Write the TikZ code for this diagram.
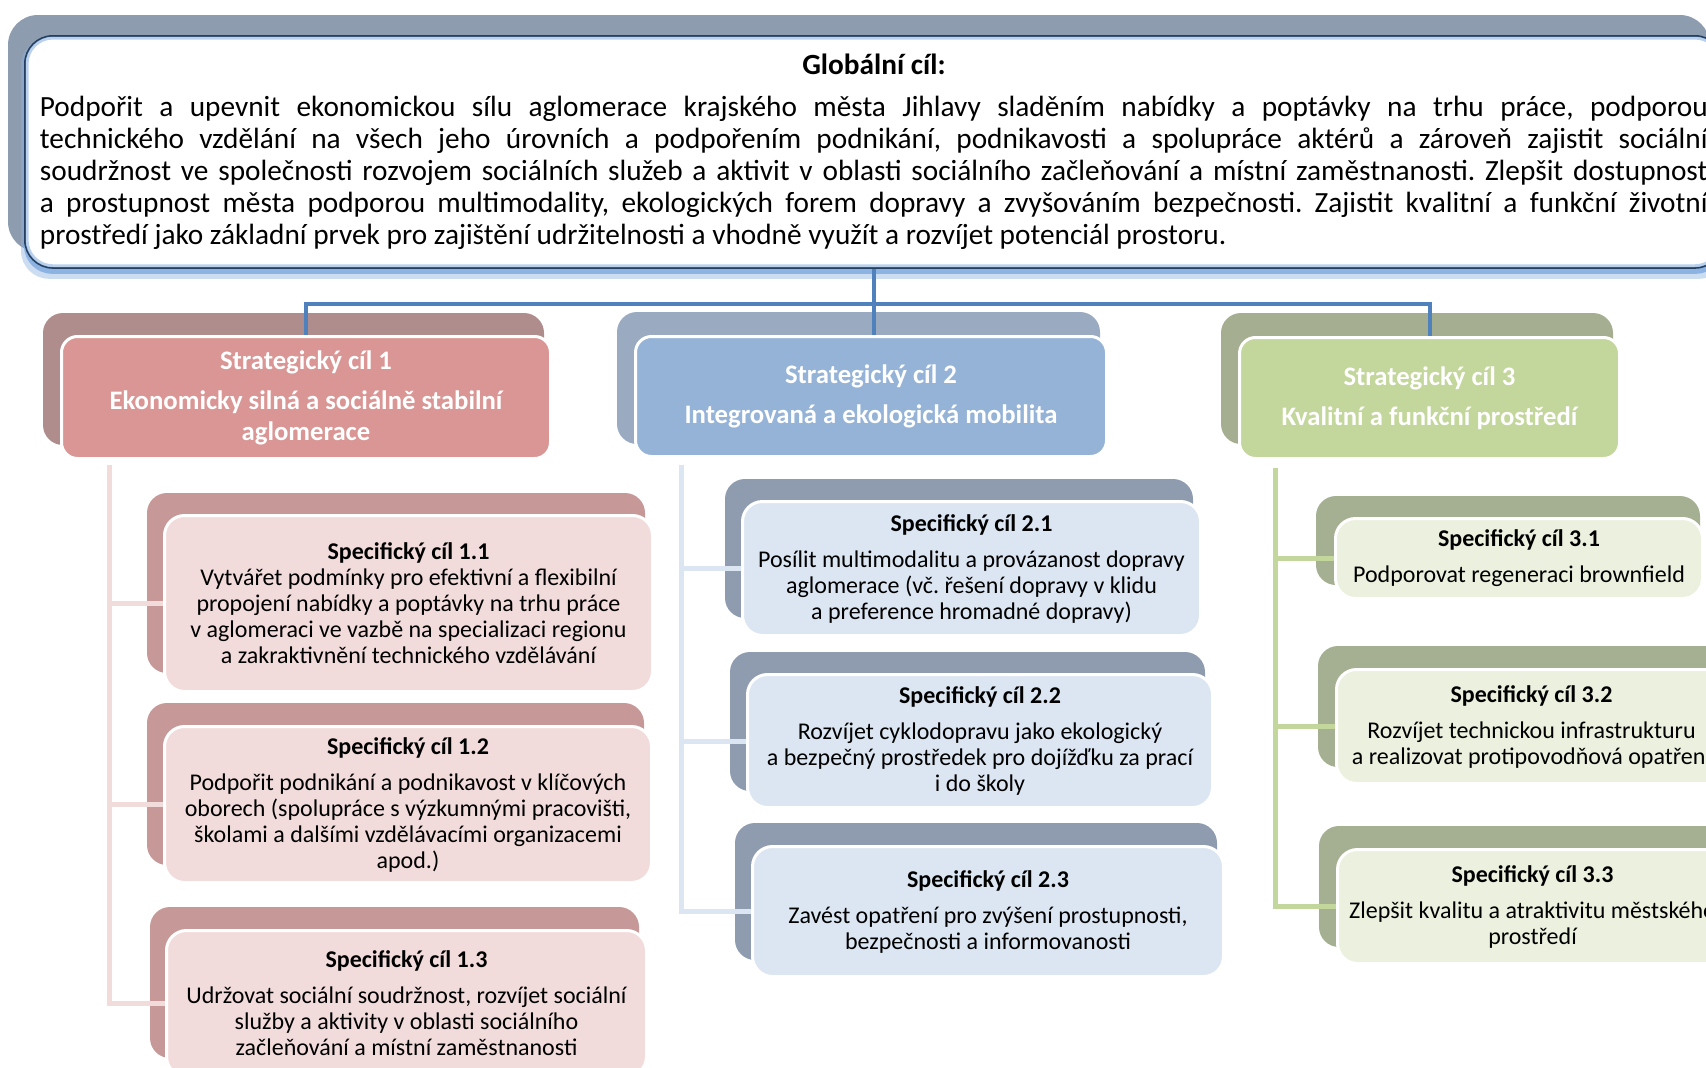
\documentclass[tikz,border=0pt]{standalone}
\usepackage{fontspec}
\setmainfont{Carlito}
\usetikzlibrary{calc,backgrounds}
\definecolor{navy}{HTML}{243F60}
\definecolor{glow}{HTML}{8DB3E2}
\definecolor{gback}{HTML}{8E9CAF}
\definecolor{conn}{HTML}{4F81BD}
\definecolor{red1}{HTML}{D99694}
\definecolor{blu1}{HTML}{95B3D7}
\definecolor{grn1}{HTML}{C3D69B}
\definecolor{red2}{HTML}{F2DCDB}
\definecolor{blu2}{HTML}{DCE6F2}
\definecolor{grn2}{HTML}{EBF1DE}
\definecolor{redbk}{HTML}{AF8D8C}
\definecolor{blubk}{HTML}{99AAC1}
\definecolor{grnbk}{HTML}{A5AE90}
\definecolor{redbk2}{HTML}{C69898}
\definecolor{blubk2}{HTML}{8F9CAF}
\definecolor{grnbk2}{HTML}{A5AF91}
\definecolor{redln}{HTML}{F2DCDB}
\definecolor{bluln}{HTML}{DCE6F2}
\definecolor{grnln}{HTML}{C3D69B}
\frenchspacing
\newcommand{\glfont}{\fontsize{29.3}{32}\selectfont}
\newcommand{\stfont}{\fontsize{26.7}{31}\selectfont\bfseries}
\newcommand{\spfont}{\fontsize{24}{26}\selectfont}
\newcommand{\hd}[1]{\textbf{#1}}
\tikzset{
  gbox/.style={draw=navy,line width=1.8pt,fill=white,rounded corners=28pt,align=justify,
    text width=1668pt,inner xsep=15pt,minimum height=232pt,anchor=north west,font=\glfont},
  sbox/.style={draw=white,line width=3pt,rounded corners=16pt,align=center,
    anchor=north west,text=white,font=\stfont},
  cbox/.style={draw=white,line width=3pt,rounded corners=20pt,align=center,
    anchor=north west,font=\spfont},
  bk/.style={rounded corners=20pt},
  bl/.style={draw=conn,line width=4pt},
  sub/.style={line width=5pt},
}

\begin{document}
\begin{tikzpicture}[x=1pt,y=-1pt]
\useasboundingbox (0,0) rectangle (1706,1068);
% global goal
\node[gbox] (glob) at (24,35) {\makebox[1668pt]{\hd{Globální cíl:}}\\[10pt]
  Podpořit a upevnit ekonomickou sílu aglomerace krajského města Jihlavy sladěním nabídky a poptávky na trhu práce, podporou\linebreak
  technického vzdělání na všech jeho úrovních a podpořením podnikání, podnikavosti a spolupráce aktérů a zároveň zajistit sociální\linebreak
  soudržnost ve společnosti rozvojem sociálních služeb a aktivit v oblasti sociálního začleňování a místní zaměstnanosti. Zlepšit dostupnost\linebreak
  a prostupnost města podporou multimodality, ekologických forem dopravy a zvyšováním bezpečnosti. Zajistit kvalitní a funkční životní\linebreak
  prostředí jako základní prvek pro zajištění udržitelnosti a vhodně využít a rozvíjet potenciál prostoru.};
\draw[glow,line width=3pt,opacity=.6,rounded corners=26pt]
  ($(glob.north west)+(3,3)$) rectangle ($(glob.south east)+(-3,-3)$);

% strategic goals
\node[sbox,fill=red1,minimum width=489pt,minimum height=122pt] (sc1) at (60,335)
  {Strategický cíl 1\\[9pt]Ekonomicky silná a sociálně stabilní\\aglomerace};
\node[sbox,fill=blu1,minimum width=471pt,minimum height=120pt] (sc2) at (634,335)
  {Strategický cíl 2\\[9pt]Integrovaná a ekologická mobilita};
\node[sbox,fill=grn1,minimum width=380pt,minimum height=121pt] (sc3) at (1238,336)
  {Strategický cíl 3\\[9pt]Kvalitní a funkční prostředí};

% specific goals
\node[cbox,fill=red2,minimum width=488pt,minimum height=176pt] (s11) at (163,514)
  {\hd{Specifický cíl 1.1}\\Vytvářet podmínky pro efektivní a flexibilní\\propojení nabídky a poptávky na trhu práce\\v aglomeraci ve vazbě na specializaci regionu\\a zakraktivnění technického vzdělávání};
\node[cbox,fill=red2,minimum width=487pt,minimum height=156pt] (s12) at (163,725)
  {\hd{Specifický cíl 1.2}\\[10pt]Podpořit podnikání a podnikavost v klíčových\\oborech (spolupráce s výzkumnými pracovišti,\\školami a dalšími vzdělávacími organizacemi\\apod.)};
\node[cbox,fill=red2,minimum width=480pt,minimum height=146pt] (s13) at (165,929)
  {\hd{Specifický cíl 1.3}\\[10pt]Udržovat sociální soudržnost, rozvíjet sociální\\služby a aktivity v oblasti sociálního\\začleňování a místní zaměstnanosti};
\node[cbox,fill=blu2,minimum width=458pt,minimum height=134pt] (s21) at (741,500)
  {\hd{Specifický cíl 2.1}\\[10pt]Posílit multimodalitu a provázanost dopravy\\aglomerace (vč. řešení dopravy v klidu\\a preference hromadné dopravy)};
\node[cbox,fill=blu2,minimum width=465pt,minimum height=133pt] (s22) at (746,673)
  {\hd{Specifický cíl 2.2}\\[10pt]Rozvíjet cyklodopravu jako ekologický\\a bezpečný prostředek pro dojížďku za prací\\i do školy};
\node[cbox,fill=blu2,minimum width=471pt,minimum height=130pt] (s23) at (751,845)
  {\hd{Specifický cíl 2.3}\\[10pt]Zavést opatření pro zvýšení prostupnosti,\\bezpečnosti a informovanosti};
\node[cbox,fill=grn2,minimum width=367pt,minimum height=80pt] (s31) at (1334,517)
  {\hd{Specifický cíl 3.1}\\[10pt]Podporovat regeneraci brownfield};
\node[cbox,fill=grn2,minimum width=390pt,minimum height=114pt] (s32) at (1335,668)
  {\hd{Specifický cíl 3.2}\\[10pt]Rozvíjet technickou infrastrukturu\\a realizovat protipovodňová opatření};
\node[cbox,fill=grn2,minimum width=390pt,minimum height=114pt] (s33) at (1336,848)
  {\hd{Specifický cíl 3.3}\\[10pt]Zlepšit kvalitu a atraktivitu městského\\prostředí};

\begin{scope}[on background layer]
% shadows behind boxes
\fill[gback,rounded corners=30pt] ($(glob.north west)+(-16,-20)$) rectangle ($(glob.south east)+(-14,-17)$);
\fill[glow,opacity=.45,rounded corners=28pt] ($(glob.north west)+(-3,3)$) rectangle ($(glob.south east)+(3,10)$);
\fill[glow,rounded corners=28pt] ($(glob.north west)+(0,2)$) rectangle ($(glob.south east)+(0,5)$);
\fill[bk,redbk] ($(sc1.north west)+(-17,-22)$) rectangle ($(sc1.south east)+(-8,-15)$);
\fill[bk,blubk] ($(sc2.north west)+(-17,-23)$) rectangle ($(sc2.south east)+(-8,-14)$);
\fill[bk,grnbk] ($(sc3.north west)+(-17,-23)$) rectangle ($(sc3.south east)+(-8,-16)$);
\fill[bk,redbk2] ($(s11.north west)+(-16,-21)$) rectangle ($(s11.south east)+(-9,-20)$);
\fill[bk,redbk2] ($(s12.north west)+(-16,-22)$) rectangle ($(s12.south east)+(-9,-19)$);
\fill[bk,redbk2] ($(s13.north west)+(-15,-22)$) rectangle ($(s13.south east)+(-9,-20)$);
\fill[bk,blubk2] ($(s21.north west)+(-16,-21)$) rectangle ($(s21.south east)+(-9,-19)$);
\fill[bk,blubk2] ($(s22.north west)+(-16,-21)$) rectangle ($(s22.south east)+(-9,-18)$);
\fill[bk,blubk2] ($(s23.north west)+(-16,-22)$) rectangle ($(s23.south east)+(-8,-18)$);
\fill[bk,grnbk2] ($(s31.north west)+(-18,-21)$) rectangle ($(s31.south east)+(-4,-15)$);
\fill[bk,grnbk2] ($(s32.north west)+(-17,-22)$) rectangle ($(s32.south east)+(0,-18)$);
\fill[bk,grnbk2] ($(s33.north west)+(-17,-22)$) rectangle ($(s33.south east)+(0,-18)$);
% connectors
\coordinate (hub) at ($(glob.south)+(0,35)$);
\draw[bl] (glob.south) -- (glob.south |- sc2.north);
\draw[bl] (sc1.north) |- (hub) -| (sc3.north);
\coordinate (c1) at ($(sc1.south west)+(49,5)$);
\coordinate (c2) at ($(sc2.south west)+(47,7)$);
\coordinate (c3) at ($(sc3.south west)+(37,8)$);
\draw[sub,redln] (c1) |- (s13.west);
\draw[sub,redln] (c1 |- s11.west) -- (s11.west);
\draw[sub,redln] (c1 |- s12.west) -- (s12.west);
\draw[sub,bluln] (c2) |- (s23.west);
\draw[sub,bluln] (c2 |- s21.west) -- (s21.west);
\draw[sub,bluln] (c2 |- s22.west) -- (s22.west);
\draw[sub,grnln] (c3) |- (s33.west);
\draw[sub,grnln] (c3 |- s31.west) -- (s31.west);
\draw[sub,grnln] (c3 |- s32.west) -- (s32.west);
\end{scope}
\end{tikzpicture}
\end{document}
